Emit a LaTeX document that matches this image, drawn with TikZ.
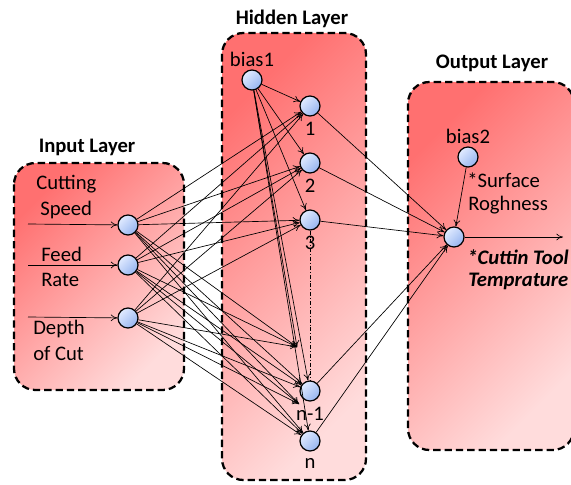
\documentclass[tikz,border=0pt]{standalone}
\usepackage{fontspec}
\setmainfont{Carlito}
\usetikzlibrary{arrows.meta}

\definecolor{boxdark}{RGB}{255,112,112}
\definecolor{boxlight}{RGB}{255,220,220}
\definecolor{cellblue}{RGB}{205,222,255}
\definecolor{celledge}{RGB}{150,180,240}

\tikzset{
  layerbox/.style={draw=black, line width=1.7pt, dash pattern=on 5.5pt off 3pt,
    rounded corners=16pt, top color=boxdark, bottom color=boxlight, shading angle=45},
  layertitle/.style={font=\fontsize{15.5}{18}\selectfont\bfseries},
  neuron/.style={circle, draw=black, line width=0.9pt, minimum size=15pt, inner sep=0pt,
    top color=cellblue!60!white, bottom color=celledge, shading angle=45},
  txt/.style={font=\fontsize{15.5}{18}\selectfont, inner sep=0pt},
  wire/.style={line width=0.5pt, -{To[length=5pt,width=5pt]}},
}

\begin{document}
\begin{tikzpicture}[x=0.75pt,y=-0.75pt]
    \useasboundingbox (0,0) rectangle (571,485);

    % layer boxes
    \draw[layerbox] (14,163) rectangle (184,390);
    \draw[layerbox] (222,33) rectangle (366,480);
    \draw[layerbox] (408,82) rectangle (574,450);

    \node [layertitle] (tin) at (87,147) {Input Layer};
    \node [layertitle] (thid) at (292,19) {Hidden Layer};
    \node [layertitle] (tout) at (492,63) {Output Layer};

    % input layer
    \node [neuron] (in1) at (128,225) {};
    \node [neuron] (in2) at (128,265) {};
    \node [neuron] (in3) at (128,318) {};
    \coordinate (src1) at (28,224);
    \coordinate (src2) at (28,265);
    \coordinate (src3) at (28,317);
    \node [txt, anchor=west] (l1a) at (36,184) {Cutting};
    \node [txt, anchor=west] (l1b) at (40,210) {Speed};
    \node [txt, anchor=west] (l2a) at (41,254) {Feed};
    \node [txt, anchor=west] (l2b) at (41,280) {Rate};
    \node [txt, anchor=west] (l3a) at (33,329) {Depth};
    \node [txt, anchor=west] (l3b) at (33,353) {of Cut};

    % hidden layer
    \node [neuron, label={[txt, yshift=2pt]above:bias1}] (hb) at (252,80) {};
    \node [neuron, label={[txt, yshift=-4pt]below:1}] (h1) at (310,106) {};
    \node [neuron, label={[txt, yshift=-4pt]below:2}] (h2) at (310,163) {};
    \node [neuron, label={[txt, yshift=-4pt]below:3}] (h3) at (310,220) {};
    \node [neuron, label={[txt, yshift=-4pt]below:n-1}] (hm) at (310,391) {};
    \node [neuron, label={[txt, yshift=-5pt]below:n}] (hn) at (310,441) {};
    \coordinate (hx) at (297,347);
    \coordinate (hy) at (299,404);
    \draw [line width=0.4pt, dash pattern=on 3pt off 1.5pt on 0.6pt off 1.5pt] (h3) -- (hm);

    % output layer
    \node [neuron, label={[txt, yshift=2pt]above:bias2}] (ob) at (468,157) {};
    \node [neuron] (out) at (454,237) {};
    \coordinate (res) at (563,237);
    \node [txt, anchor=west] (o1a) at (467,180) {*Surface};
    \node [txt, anchor=west] (o1b) at (468,205) {Roghness};
    \node [txt, anchor=west, font=\fontsize{15.5}{18}\selectfont\bfseries\itshape] (o2a) at (467,257) {*Cuttin Tool};
    \node [txt, anchor=west, font=\fontsize{15.5}{18}\selectfont\bfseries\itshape] (o2b) at (468,281) {Temprature};

    % connections
    \foreach \i in {1,2,3}
        \draw [wire] (src\i) -- (in\i);
    \foreach \i in {1,2,3}
        \foreach \j in {h1,h2,h3,hx,hm,hy,hn}
            \draw [wire] (in\i) -- (\j);
    \foreach \j in {h1,h2,h3,hm,hn}
        \draw [wire] (hb) -- (\j);
    \draw [wire] (hb) -- (hx);
    \foreach \j in {h1,h2,h3,hm,hn,ob}
        \draw [wire] (\j) -- (out);
    \draw [wire] (out) -- (res);
\end{tikzpicture}
\end{document}
